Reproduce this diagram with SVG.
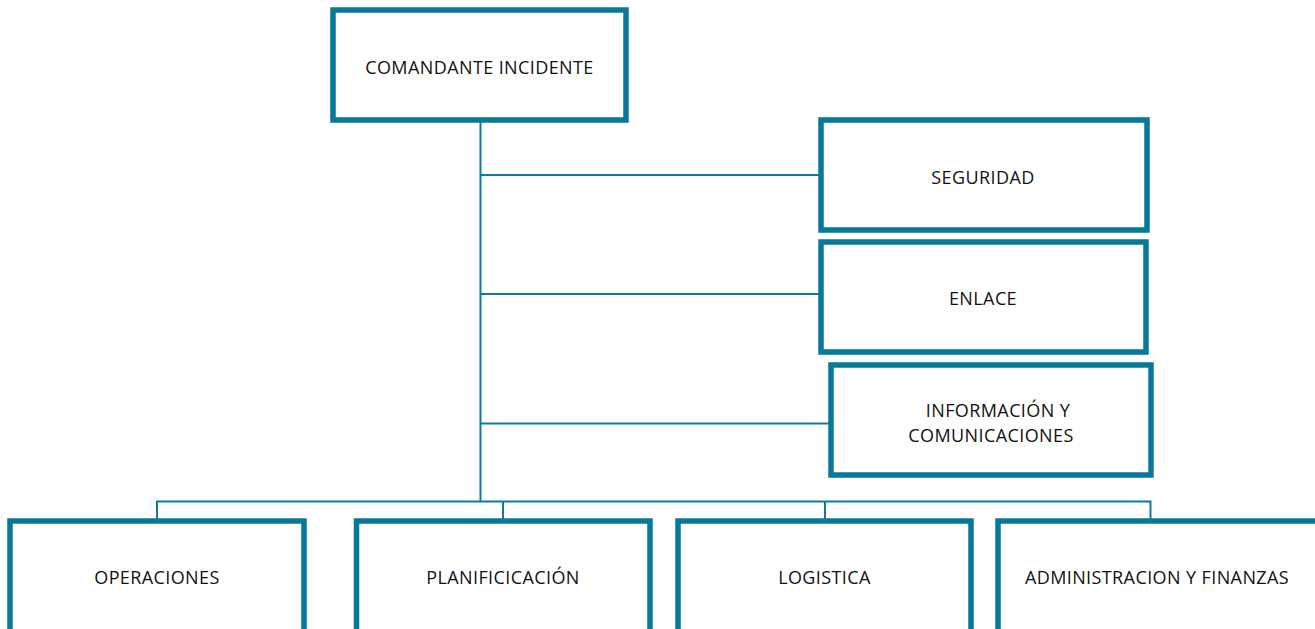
<svg xmlns="http://www.w3.org/2000/svg" width="1315" height="629" viewBox="0 0 1315 629">
<style>
.box{fill:#ffffff;stroke:#07789A;stroke-width:5.5}
.ln{fill:none;stroke:#0B7C9B;stroke-width:2}
.t{font-family:"Open Sans","Noto Sans","Liberation Sans",sans-serif;font-size:18px;letter-spacing:0.4px;fill:#111111;text-anchor:middle}
</style>
<rect width="1315" height="629" fill="#ffffff"/>
<g id="connectors">
<path class="ln" d="M480.5 120 V501.5"/>
<path class="ln" d="M480.5 175 H825"/>
<path class="ln" d="M480.5 294 H835"/>
<path class="ln" d="M480.5 423.5 H835"/>
<path class="ln" d="M157 521 V501.5 H1150.5 V521"/>
<path class="ln" d="M503 501.5 V521"/>
<path class="ln" d="M825 501.5 V521"/>
</g>
<g id="comandante">
<rect class="box" x="333" y="10" width="293" height="110"/>
<text class="t" x="479.5" y="73.5">COMANDANTE INCIDENTE</text>
</g>
<g id="seguridad">
<rect class="box" x="821" y="120" width="326" height="110"/>
<text class="t" x="983" y="183.5">SEGURIDAD</text>
</g>
<g id="enlace">
<rect class="box" x="821" y="242" width="325" height="110"/>
<text class="t" x="983" y="305">ENLACE</text>
</g>
<g id="informacion">
<rect class="box" x="831" y="365" width="320" height="110"/>
<text class="t" x="998" y="417">INFORMACIÓN Y</text>
<text class="t" x="991" y="442">COMUNICACIONES</text>
</g>
<g id="operaciones">
<rect class="box" x="10" y="521" width="294" height="130"/>
<text class="t" x="157" y="584">OPERACIONES</text>
</g>
<g id="planificacion">
<rect class="box" x="356.5" y="521" width="293.5" height="130"/>
<text class="t" x="503" y="584">PLANIFICICACIÓN</text>
</g>
<g id="logistica">
<rect class="box" x="678" y="521" width="293" height="130"/>
<text class="t" x="824.5" y="584">LOGISTICA</text>
</g>
<g id="administracion">
<rect class="box" x="998" y="521" width="320" height="130"/>
<text class="t" x="1157" y="584">ADMINISTRACION Y FINANZAS</text>
</g>
</svg>
